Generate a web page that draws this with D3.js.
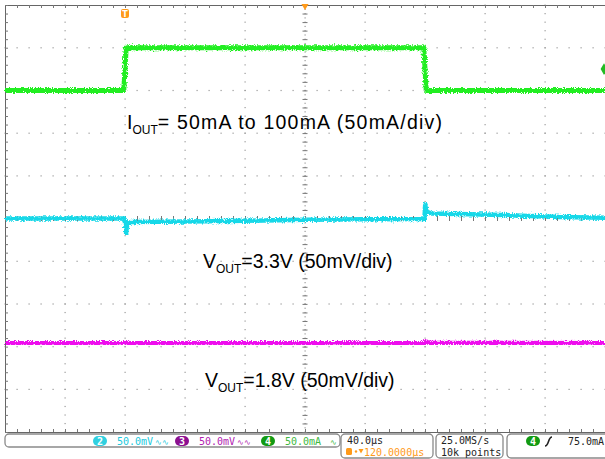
<!DOCTYPE html>
<html>
<head>
<meta charset="utf-8">
<title>Load transient capture</title>
<style>
	body { margin: 0; background: #fff; }
	svg { display: block; }
	.note { font-family: "Liberation Sans", Arial, sans-serif; font-size: 19.5px; fill: #000; }
	.stat { font-family: "DejaVu Sans Mono", monospace; font-size: 10px; }
	.axis path.domain { stroke: #666; }
	.axis line { stroke: #777; }
</style>
</head>
<body>
<div id="scope"></div>
<script src="https://cdnjs.cloudflare.com/ajax/libs/d3/7.8.5/d3.min.js"></script>
<script>
// Screen: 10 x 10 divisions, 40us/div, trigger at t = 0
var timeDomain = [-80, 320]   // us
var divDomain  = [-5, 5]

// Channel 4: output current (mA), 50mA/div, 0mA at +2 div
var ioutT  = [-80, -0.8, 0.8, 199.2, 200.8, 320]
var ioutMA = [50, 50, 100, 100, 50, 50]

// Channel 2: 3.3V output, deviation in mV, 50mV/div, centred
var v33T  = [-80, -0.3, 0.7, 1.6, 4, 40, 80, 120, 160, 199.6, 200.2, 201, 204, 230, 260, 290, 320]
var v33mV = [0, 0, -17, -6, -4, -3.4, -2.6, -1.6, -0.9, -0.6, 17, 8, 6, 5, 3.6, 1.8, 0.8]

// Channel 3: 1.8V output, deviation in mV, 50mV/div, at -2.92 div
var v18T  = [-80, 199.5, 200.4, 202, 320]
var v18mV = [0, 0, 2.5, 0.6, 0]

// Status bar labels
var chanScales = ["50.0mV", "50.0mV", "50.0mA"]
var horizLabels = ["40.0\u00b5s", "120.0000\u00b5s"]
var acqLabels = ["25.0MS/s", "10k points"]
var trigLabel = "75.0mA"

var W = 605, H = 459

var x = d3.scaleLinear().domain(timeDomain).range([5, 605])
var y = d3.scaleLinear().domain(divDomain).range([432, 5])

var svg = d3.select("#scope").append("svg")
	.attr("width", W).attr("height", H)

// fuzzy trace filter
var defs = svg.append("defs")
var f = defs.append("filter").attr("id", "fuzz")
	.attr("x", "-2%").attr("y", "-50%").attr("width", "104%").attr("height", "200%")
f.append("feTurbulence").attr("type", "fractalNoise")
	.attr("baseFrequency", "1.1 0.7").attr("numOctaves", 2).attr("seed", 3).attr("result", "n")
f.append("feDisplacementMap").attr("in", "SourceGraphic").attr("in2", "n")
	.attr("scale", 5).attr("xChannelSelector", "R").attr("yChannelSelector", "G")

// Grid dots
var majorT = d3.range(-40, 320, 40)
var majorD = d3.range(-4, 5, 1)
var minorT = d3.range(-80, 320.01, 8)
var minorD = d3.range(-50, 51, 2).map(function(d){ return d / 10 })

var grid = svg.append("g").attr("fill", "#9a9a9a")
majorT.filter(function(t){ return t != 120 }).forEach(function(t){
	grid.selectAll(null).data(minorD).enter().append("rect")
		.attr("x", x(t) - 0.5).attr("y", function(d){ return y(d) - 0.5 })
		.attr("width", 1.2).attr("height", 1.2)
})
majorD.filter(function(d){ return d != 0 }).forEach(function(d){
	grid.selectAll(null).data(minorT).enter().append("rect")
		.attr("x", function(t){ return x(t) - 0.5 }).attr("y", y(d) - 0.5)
		.attr("width", 1.2).attr("height", 1.2)
})

// Border with ticks
svg.append("g").attr("class", "axis").attr("transform", "translate(0,432)")
	.call(d3.axisTop(x).tickValues(minorT).tickSize(3).tickSizeOuter(0).tickFormat(""))
svg.append("g").attr("class", "axis").attr("transform", "translate(0,5)")
	.call(d3.axisBottom(x).tickValues(minorT).tickSize(3).tickSizeOuter(0).tickFormat(""))
svg.append("g").attr("class", "axis").attr("transform", "translate(5,0)")
	.call(d3.axisRight(y).tickValues(minorD).tickSize(3).tickSizeOuter(0).tickFormat(""))

// Centre crosshair
var cx = svg.append("g").attr("class", "axis").attr("transform", "translate(" + (x(120) - 2.5) + ",0)")
	.call(d3.axisRight(y).tickValues(minorD).tickSize(5).tickFormat(""))
cx.select(".domain").remove()
var cy = svg.append("g").attr("class", "axis").attr("transform", "translate(0," + (y(0) - 2.5) + ")")
	.call(d3.axisBottom(x).tickValues(minorT).tickSize(5).tickFormat(""))
cy.select(".domain").remove()
grid.selectAll(null).data(d3.range(-5, 5, 0.1)).enter().append("rect")
	.attr("x", x(120) - 0.5).attr("y", function(d){ return y(d) - 0.5 })
	.attr("width", 1.2).attr("height", 1.2)

// Traces
var line = d3.line()
	.x(function(d){ return x(d[0]) })
	.y(function(d){ return y(d[1]) })

var toDiv = function(ts, vs, scale, offset){
	return ts.map(function(t, i){ return [t, vs[i] / scale + offset] })
}

var traces = [
	{ data: toDiv(v18T, v18mV, 50, -2.92), color: "#ee10ee", w: 4.5 },
	{ data: toDiv(v33T, v33mV, 50, 0), color: "#18d8e8", w: 4.5 },
	{ data: toDiv(ioutT, ioutMA, 50, 2), color: "#22ee22", w: 5 }
]
traces.forEach(function(tr){
	svg.append("path").datum(tr.data)
		.attr("d", line)
		.attr("fill", "none")
		.attr("stroke", tr.color)
		.attr("stroke-width", tr.w)
		.attr("stroke-linejoin", "round")
		.attr("filter", "url(#fuzz)")
})

// Markers: trigger position, expansion point, trigger level
var tp = svg.append("g").attr("transform", "translate(" + x(0) + ",14)")
tp.append("rect").attr("x", -4).attr("y", -5).attr("width", 8).attr("height", 9).attr("rx", 2).attr("fill", "#ff9a1a")
tp.append("text").attr("y", 3).attr("text-anchor", "middle").attr("fill", "#fff")
	.style("font", "bold 8px 'DejaVu Sans'").text("T")
svg.append("path").attr("d", d3.symbol(d3.symbolTriangle, 22)())
	.attr("transform", "translate(" + x(120) + ",6) rotate(180)").attr("fill", "#ff9a1a")
svg.append("path").attr("d", d3.symbol(d3.symbolDiamond, 40)())
	.attr("transform", "translate(" + (x(320) - 1) + "," + y(75 / 50 + 2) + ")").attr("fill", "#22bb22")

// Annotations
var note = function(px, py, head, rest, spacing){
	var t = svg.append("text").attr("class", "note").attr("x", px).attr("y", py)
	t.append("tspan").text(head)
	t.append("tspan").attr("dy", 5).style("font-size", "12px").text("OUT")
	t.append("tspan").attr("dy", -5).style("letter-spacing", spacing + "px").text(rest)
}
note(127, 129, "I", "= 50mA to 100mA (50mA/div)", 1.2)
note(203, 268, "V", "=3.3V (50mV/div)", 0)
note(205, 387, "V", "=1.8V (50mV/div)", 0)

// Status bar
var sb = svg.append("g")
var box = function(x0, x1, y0, y1){
	sb.append("rect").attr("x", x0).attr("y", y0).attr("width", x1 - x0).attr("height", y1 - y0)
		.attr("rx", 4).attr("fill", "#fff").attr("stroke", "#8a8a8a").attr("stroke-width", 1.3)
}
var badge = function(px, py, label, fill){
	sb.append("rect").attr("x", px - 7).attr("y", py - 5).attr("width", 14).attr("height", 10)
		.attr("rx", 5).attr("fill", fill)
	sb.append("text").attr("class", "stat").attr("x", px).attr("y", py + 3.5)
		.attr("text-anchor", "middle").attr("fill", "#fff").style("font-weight", "bold").text(label)
}
var stext = function(px, py, s, color){
	return sb.append("text").attr("class", "stat").attr("x", px).attr("y", py).attr("fill", color).text(s)
}
box(5, 340, 434, 447)
box(341, 433, 434, 458)
box(436, 503, 434, 458)
box(507, 612, 434, 458)

var chanColors = ["#20c8dc", "#b020b0", "#40b840"]
var badgeColors = ["#30d0e0", "#8c1090", "#129a12"]
var badgeX = [100, 182, 268]
;["2", "3", "4"].forEach(function(c, i){
	badge(badgeX[i], 441, c, badgeColors[i])
	stext(badgeX[i] + 17, 444.5, chanScales[i], chanColors[i])
	var wave = i < 2 ? "\u223f\u223f" : "\u223f"
	stext(badgeX[i] + (i < 2 ? 55 : 62), 444.5, wave, chanColors[i]).style("font-size", "8px")
})

stext(347, 444, horizLabels[0], "#222")
sb.append("rect").attr("x", 346).attr("y", 448).attr("width", 6).attr("height", 7).attr("rx", 1.5).attr("fill", "#ff9a1a")
sb.append("circle").attr("cx", 356).attr("cy", 451.5).attr("r", 1.2).attr("fill", "#ff9a1a")
sb.append("path").attr("d", "M358.5,449 L363.5,449 L361,453.5 Z").attr("fill", "#ff9a1a")
stext(364, 455.5, horizLabels[1], "#ff9a1a")

stext(441, 444, acqLabels[0], "#222")
stext(441, 455.5, acqLabels[1], "#222")

badge(533, 441, "4", "#129a12")
sb.append("path").attr("d", "M545,446 C549,446 548,437 552,437")
	.attr("fill", "none").attr("stroke", "#222").attr("stroke-width", 1.6)
stext(568, 444.5, trigLabel, "#222")
</script>
</body>
</html>
